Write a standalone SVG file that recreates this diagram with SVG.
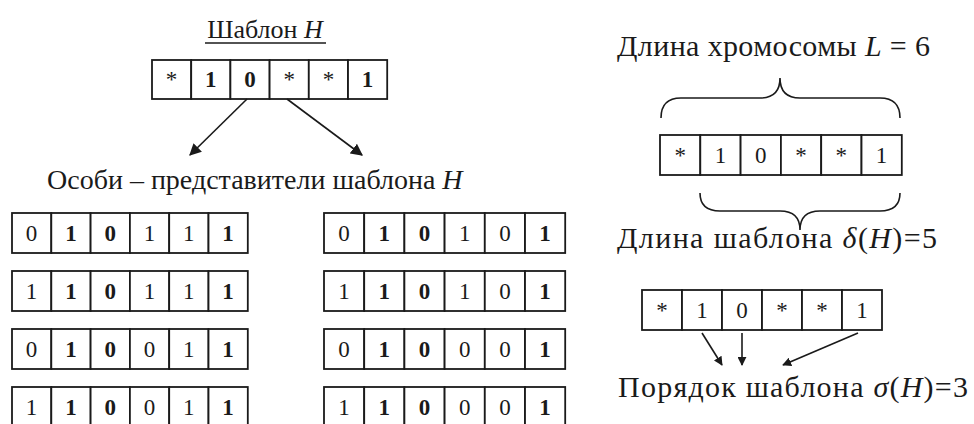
<svg xmlns="http://www.w3.org/2000/svg" width="974" height="424" viewBox="0 0 974 424">
<style>
text{fill:#1a1a1a}
.c{fill:#fff;stroke:#1a1a1a;stroke-width:1.8}
.d{font-size:23px;text-anchor:middle}
.b{font-weight:bold}
.lbl{font-size:30px}
.i{font-style:italic}
.ln{stroke:#1a1a1a;stroke-width:1.6;fill:none}
</style>
<defs>
<marker id="ah" viewBox="0 0 10 10" refX="9" refY="5" markerWidth="9" markerHeight="9" markerUnits="userSpaceOnUse" orient="auto">
<path d="M0,0 L10,5 L0,10 z" fill="#1a1a1a"/>
</marker>
<marker id="ah2" viewBox="0 0 10 10" refX="9" refY="5" markerWidth="12" markerHeight="12" markerUnits="userSpaceOnUse" orient="auto">
<path d="M0,0 L10,5 L0,10 z" fill="#1a1a1a"/>
</marker>
</defs>

<g id="template-title">
<text font-family="'Liberation Serif', serif" x="265" y="38" text-anchor="middle" font-size="26">Шаблон <tspan class="i">H</tspan></text>
<line x1="205" y1="43" x2="326" y2="43" stroke="#1a1a1a" stroke-width="1.5"/>
</g>

<g id="template-H">
<rect class="c" x="152" y="60" width="39.2" height="39"/>
<rect class="c" x="191.2" y="60" width="39.2" height="39"/>
<rect class="c" x="230.4" y="60" width="39.2" height="39"/>
<rect class="c" x="269.6" y="60" width="39.2" height="39"/>
<rect class="c" x="308.8" y="60" width="39.2" height="39"/>
<rect class="c" x="348" y="60" width="39.2" height="39"/>
<text font-family="'Liberation Serif', serif" class="d" x="171.6" y="87">*</text>
<text font-family="'Liberation Serif', serif" class="d b" x="210.8" y="87">1</text>
<text font-family="'Liberation Serif', serif" class="d b" x="250" y="87">0</text>
<text font-family="'Liberation Serif', serif" class="d" x="289.2" y="87">*</text>
<text font-family="'Liberation Serif', serif" class="d" x="328.4" y="87">*</text>
<text font-family="'Liberation Serif', serif" class="d b" x="367.6" y="87">1</text>
</g>

<g id="connectors">
<line class="ln" x1="247" y1="99" x2="190" y2="155" marker-end="url(#ah2)"/>
<line class="ln" x1="287" y1="99" x2="362" y2="155" marker-end="url(#ah2)"/>
<line class="ln" x1="702" y1="333" x2="722" y2="365" marker-end="url(#ah)"/>
<line class="ln" x1="742" y1="333" x2="742" y2="365" marker-end="url(#ah)"/>
<line class="ln" x1="858" y1="333" x2="783" y2="365" marker-end="url(#ah)"/>
</g>

<g id="members-title">
<text font-family="'Liberation Serif', serif" x="47" y="189" font-size="28">Особи – представители шаблона <tspan class="i">H</tspan></text>
</g>

<g id="left-rows">
<g id="row-L1">
<rect class="c" x="12" y="213" width="39.3" height="40"/><rect class="c" x="51.3" y="213" width="39.3" height="40"/><rect class="c" x="90.6" y="213" width="39.3" height="40"/><rect class="c" x="129.9" y="213" width="39.3" height="40"/><rect class="c" x="169.2" y="213" width="39.3" height="40"/><rect class="c" x="208.5" y="213" width="39.3" height="40"/>
<text font-family="'Liberation Serif', serif" class="d" x="31.6" y="241">0</text><text font-family="'Liberation Serif', serif" class="d b" x="70.9" y="241">1</text><text font-family="'Liberation Serif', serif" class="d b" x="110.2" y="241">0</text><text font-family="'Liberation Serif', serif" class="d" x="149.5" y="241">1</text><text font-family="'Liberation Serif', serif" class="d" x="188.8" y="241">1</text><text font-family="'Liberation Serif', serif" class="d b" x="228.1" y="241">1</text>
</g>
<g id="row-L2">
<rect class="c" x="12" y="271" width="39.3" height="40"/><rect class="c" x="51.3" y="271" width="39.3" height="40"/><rect class="c" x="90.6" y="271" width="39.3" height="40"/><rect class="c" x="129.9" y="271" width="39.3" height="40"/><rect class="c" x="169.2" y="271" width="39.3" height="40"/><rect class="c" x="208.5" y="271" width="39.3" height="40"/>
<text font-family="'Liberation Serif', serif" class="d" x="31.6" y="299">1</text><text font-family="'Liberation Serif', serif" class="d b" x="70.9" y="299">1</text><text font-family="'Liberation Serif', serif" class="d b" x="110.2" y="299">0</text><text font-family="'Liberation Serif', serif" class="d" x="149.5" y="299">1</text><text font-family="'Liberation Serif', serif" class="d" x="188.8" y="299">1</text><text font-family="'Liberation Serif', serif" class="d b" x="228.1" y="299">1</text>
</g>
<g id="row-L3">
<rect class="c" x="12" y="329" width="39.3" height="40"/><rect class="c" x="51.3" y="329" width="39.3" height="40"/><rect class="c" x="90.6" y="329" width="39.3" height="40"/><rect class="c" x="129.9" y="329" width="39.3" height="40"/><rect class="c" x="169.2" y="329" width="39.3" height="40"/><rect class="c" x="208.5" y="329" width="39.3" height="40"/>
<text font-family="'Liberation Serif', serif" class="d" x="31.6" y="357">0</text><text font-family="'Liberation Serif', serif" class="d b" x="70.9" y="357">1</text><text font-family="'Liberation Serif', serif" class="d b" x="110.2" y="357">0</text><text font-family="'Liberation Serif', serif" class="d" x="149.5" y="357">0</text><text font-family="'Liberation Serif', serif" class="d" x="188.8" y="357">1</text><text font-family="'Liberation Serif', serif" class="d b" x="228.1" y="357">1</text>
</g>
<g id="row-L4">
<rect class="c" x="12" y="387" width="39.3" height="40"/><rect class="c" x="51.3" y="387" width="39.3" height="40"/><rect class="c" x="90.6" y="387" width="39.3" height="40"/><rect class="c" x="129.9" y="387" width="39.3" height="40"/><rect class="c" x="169.2" y="387" width="39.3" height="40"/><rect class="c" x="208.5" y="387" width="39.3" height="40"/>
<text font-family="'Liberation Serif', serif" class="d" x="31.6" y="415">1</text><text font-family="'Liberation Serif', serif" class="d b" x="70.9" y="415">1</text><text font-family="'Liberation Serif', serif" class="d b" x="110.2" y="415">0</text><text font-family="'Liberation Serif', serif" class="d" x="149.5" y="415">0</text><text font-family="'Liberation Serif', serif" class="d" x="188.8" y="415">1</text><text font-family="'Liberation Serif', serif" class="d b" x="228.1" y="415">1</text>
</g>
</g>

<g id="right-rows">
<g id="row-R1">
<rect class="c" x="324" y="213" width="40.2" height="40"/><rect class="c" x="364.2" y="213" width="40.2" height="40"/><rect class="c" x="404.4" y="213" width="40.2" height="40"/><rect class="c" x="444.6" y="213" width="40.2" height="40"/><rect class="c" x="484.8" y="213" width="40.2" height="40"/><rect class="c" x="525" y="213" width="40.2" height="40"/>
<text font-family="'Liberation Serif', serif" class="d" x="344.1" y="241">0</text><text font-family="'Liberation Serif', serif" class="d b" x="384.3" y="241">1</text><text font-family="'Liberation Serif', serif" class="d b" x="424.5" y="241">0</text><text font-family="'Liberation Serif', serif" class="d" x="464.7" y="241">1</text><text font-family="'Liberation Serif', serif" class="d" x="504.9" y="241">0</text><text font-family="'Liberation Serif', serif" class="d b" x="545.1" y="241">1</text>
</g>
<g id="row-R2">
<rect class="c" x="324" y="271" width="40.2" height="40"/><rect class="c" x="364.2" y="271" width="40.2" height="40"/><rect class="c" x="404.4" y="271" width="40.2" height="40"/><rect class="c" x="444.6" y="271" width="40.2" height="40"/><rect class="c" x="484.8" y="271" width="40.2" height="40"/><rect class="c" x="525" y="271" width="40.2" height="40"/>
<text font-family="'Liberation Serif', serif" class="d" x="344.1" y="299">1</text><text font-family="'Liberation Serif', serif" class="d b" x="384.3" y="299">1</text><text font-family="'Liberation Serif', serif" class="d b" x="424.5" y="299">0</text><text font-family="'Liberation Serif', serif" class="d" x="464.7" y="299">1</text><text font-family="'Liberation Serif', serif" class="d" x="504.9" y="299">0</text><text font-family="'Liberation Serif', serif" class="d b" x="545.1" y="299">1</text>
</g>
<g id="row-R3">
<rect class="c" x="324" y="329" width="40.2" height="40"/><rect class="c" x="364.2" y="329" width="40.2" height="40"/><rect class="c" x="404.4" y="329" width="40.2" height="40"/><rect class="c" x="444.6" y="329" width="40.2" height="40"/><rect class="c" x="484.8" y="329" width="40.2" height="40"/><rect class="c" x="525" y="329" width="40.2" height="40"/>
<text font-family="'Liberation Serif', serif" class="d" x="344.1" y="357">0</text><text font-family="'Liberation Serif', serif" class="d b" x="384.3" y="357">1</text><text font-family="'Liberation Serif', serif" class="d b" x="424.5" y="357">0</text><text font-family="'Liberation Serif', serif" class="d" x="464.7" y="357">0</text><text font-family="'Liberation Serif', serif" class="d" x="504.9" y="357">0</text><text font-family="'Liberation Serif', serif" class="d b" x="545.1" y="357">1</text>
</g>
<g id="row-R4">
<rect class="c" x="324" y="387" width="40.2" height="40"/><rect class="c" x="364.2" y="387" width="40.2" height="40"/><rect class="c" x="404.4" y="387" width="40.2" height="40"/><rect class="c" x="444.6" y="387" width="40.2" height="40"/><rect class="c" x="484.8" y="387" width="40.2" height="40"/><rect class="c" x="525" y="387" width="40.2" height="40"/>
<text font-family="'Liberation Serif', serif" class="d" x="344.1" y="415">1</text><text font-family="'Liberation Serif', serif" class="d b" x="384.3" y="415">1</text><text font-family="'Liberation Serif', serif" class="d b" x="424.5" y="415">0</text><text font-family="'Liberation Serif', serif" class="d" x="464.7" y="415">0</text><text font-family="'Liberation Serif', serif" class="d" x="504.9" y="415">0</text><text font-family="'Liberation Serif', serif" class="d b" x="545.1" y="415">1</text>
</g>
</g>

<g id="chromosome-length">
<text font-family="'Liberation Serif', serif" class="lbl" x="617" y="56" textLength="313" lengthAdjust="spacing">Длина хромосомы <tspan class="i">L</tspan> = 6</text>
<path class="ln" d="M661,118 Q661,98 681,98 L760,98 Q780,98 780,78 Q780,98 800,98 L880,98 Q900,98 900,118"/>
</g>

<g id="template-right-1">
<rect class="c" x="660" y="135" width="40.3" height="40"/><rect class="c" x="700.3" y="135" width="40.3" height="40"/><rect class="c" x="740.6" y="135" width="40.3" height="40"/><rect class="c" x="780.9" y="135" width="40.3" height="40"/><rect class="c" x="821.2" y="135" width="40.3" height="40"/><rect class="c" x="861.5" y="135" width="40.3" height="40"/>
<text font-family="'Liberation Serif', serif" class="d" x="680.2" y="163">*</text><text font-family="'Liberation Serif', serif" class="d" x="720.5" y="163">1</text><text font-family="'Liberation Serif', serif" class="d" x="760.8" y="163">0</text><text font-family="'Liberation Serif', serif" class="d" x="801" y="163">*</text><text font-family="'Liberation Serif', serif" class="d" x="841.3" y="163">*</text><text font-family="'Liberation Serif', serif" class="d" x="881.6" y="163">1</text>
</g>

<g id="defining-length">
<path class="ln" d="M700,193 Q700,211 720,211 L780,211 Q800,211 800,230 Q800,211 820,211 L880,211 Q900,211 900,193"/>
<text font-family="'Liberation Serif', serif" class="lbl" x="617" y="248" textLength="320" lengthAdjust="spacing">Длина шаблона <tspan class="i">δ</tspan>(<tspan class="i">H</tspan>)=5</text>
</g>

<g id="template-right-2">
<rect class="c" x="642" y="290" width="40" height="40"/><rect class="c" x="682" y="290" width="40" height="40"/><rect class="c" x="722" y="290" width="40" height="40"/><rect class="c" x="762" y="290" width="40" height="40"/><rect class="c" x="802" y="290" width="40" height="40"/><rect class="c" x="842" y="290" width="40" height="40"/>
<text font-family="'Liberation Serif', serif" class="d" x="662" y="318">*</text><text font-family="'Liberation Serif', serif" class="d" x="702" y="318">1</text><text font-family="'Liberation Serif', serif" class="d" x="742" y="318">0</text><text font-family="'Liberation Serif', serif" class="d" x="782" y="318">*</text><text font-family="'Liberation Serif', serif" class="d" x="822" y="318">*</text><text font-family="'Liberation Serif', serif" class="d" x="862" y="318">1</text>
</g>

<g id="order">
<text font-family="'Liberation Serif', serif" class="lbl" x="618" y="397" textLength="350" lengthAdjust="spacing">Порядок шаблона <tspan class="i">σ</tspan>(<tspan class="i">H</tspan>)=3</text>
</g>
</svg>
